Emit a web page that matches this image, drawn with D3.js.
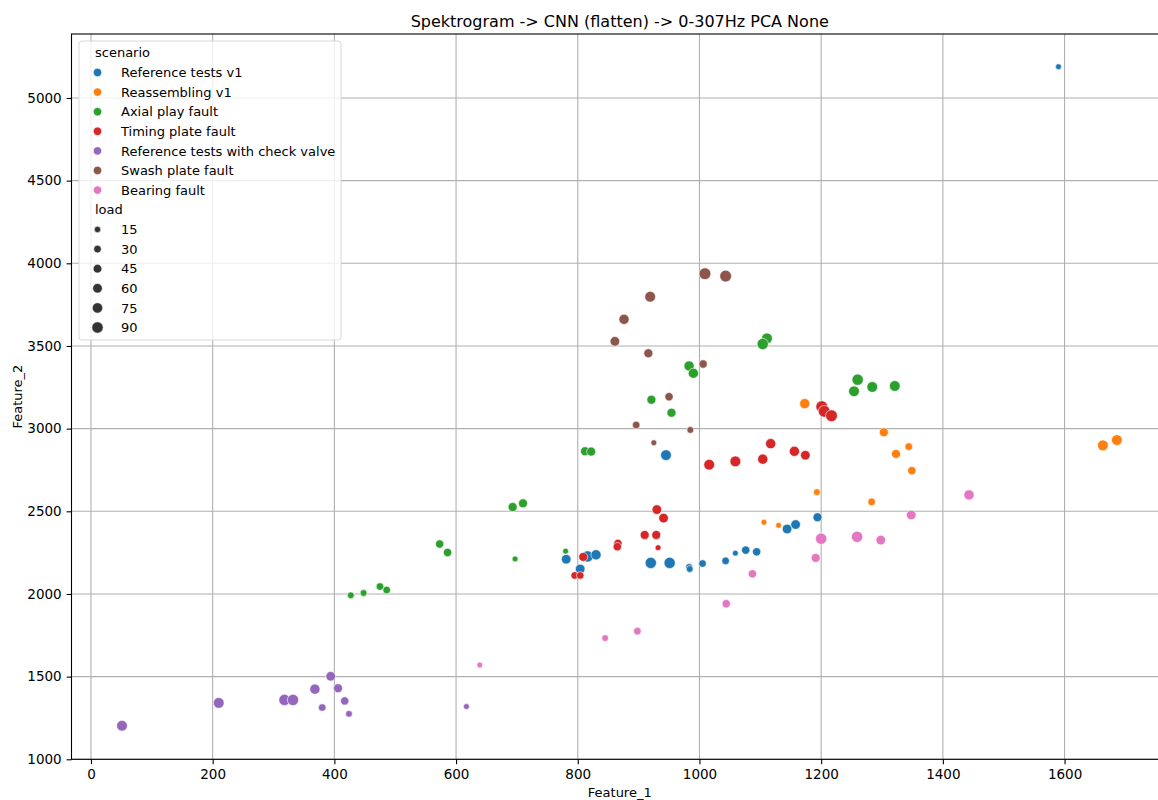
<!DOCTYPE html>
<html>
<head>
<meta charset="utf-8">
<script src="https://cdn.jsdelivr.net/npm/d3@7"></script>
<style>
  body { margin: 0; background: #fff; }
  svg { font-family: "DejaVu Sans", sans-serif; }
</style>
</head>
<body>
<svg id="chart" width="1158" height="800"></svg>
<script>
// Scenario names and colours (legend order)
const scenarios = ["Reference tests v1", "Reassembling v1", "Axial play fault", "Timing plate fault",
    "Reference tests with check valve", "Swash plate fault", "Bearing fault"];
const colors = ["#1f77b4", "#ff7f0e", "#2ca02c", "#d62728", "#9467bd", "#8c564b", "#e377c2"];

// Points per scenario: [Feature_1, Feature_2, load]
const referenceV1 = [[945, 2840, 80], [1194, 2464, 50], [1158, 2420, 60], [1144, 2393, 60], [1590, 5189, 10],
    [781, 2210, 60], [804, 2151, 60], [816, 2227, 90], [830, 2237, 70], [920, 2188, 90], [951, 2188, 90],
    [983, 2163, 20], [984, 2151, 20], [1005, 2184, 30], [1043, 2200, 30], [1059, 2247, 10], [1076, 2265, 40],
    [1094, 2255, 40]];
const reassemblingV1 = [[1173, 3151, 70], [1303, 2978, 50], [1344, 2891, 30], [1323, 2847, 50], [1349, 2746, 40],
    [1193, 2616, 20], [1283, 2557, 30], [1106, 2434, 10], [1130, 2415, 10], [1663, 2899, 80], [1686, 2931, 80]];
const axialPlay = [[1111, 3546, 80], [1104, 3512, 90], [983, 3379, 70], [990, 3335, 70], [921, 3175, 50],
    [954, 3096, 50], [1260, 3296, 90], [1254, 3226, 80], [1284, 3252, 80], [1321, 3258, 80], [812, 2863, 50],
    [822, 2861, 50], [693, 2526, 50], [710, 2548, 50], [573, 2302, 40], [586, 2251, 40], [697, 2212, 10],
    [780, 2259, 10], [475, 2045, 30], [486, 2024, 30], [448, 2006, 20], [427, 1992, 20]];
const timingPlate = [[1201, 3133, 100], [1205, 3105, 100], [1217, 3078, 100], [1117, 2909, 70], [1156, 2863, 70],
    [1174, 2839, 60], [1104, 2815, 70], [1059, 2802, 80], [1016, 2782, 80], [930, 2510, 60], [941, 2459, 60],
    [910, 2357, 50], [929, 2357, 50], [932, 2280, 10], [866, 2306, 40], [865, 2286, 40], [809, 2224, 50],
    [795, 2112, 30], [804, 2112, 30]];
const checkValve = [[51, 1203, 80], [210, 1341, 80], [318, 1359, 90], [332, 1359, 90], [368, 1424, 70],
    [380, 1313, 30], [394, 1502, 60], [406, 1430, 50], [417, 1353, 40], [424, 1275, 20], [617, 1319, 10]];
const swashPlate = [[1009, 3937, 100], [1043, 3923, 100], [919, 3798, 80], [876, 3661, 70], [861, 3528, 60],
    [916, 3456, 50], [1006, 3391, 40], [950, 3193, 40], [896, 3022, 30], [985, 2992, 20], [925, 2915, 10]];
const bearing = [[1443, 2599, 70], [1348, 2478, 60], [1200, 2334, 90], [1259, 2346, 90], [1298, 2326, 60],
    [1191, 2218, 50], [1087, 2122, 40], [1044, 1941, 40], [898, 1775, 30], [845, 1733, 20], [639, 1570, 10]];

const seriesPoints = [referenceV1, reassemblingV1, axialPlay, timingPlate, checkValve, swashPlate, bearing];

const xTicks = [0, 200, 400, 600, 800, 1000, 1200, 1400, 1600];
const yTicks = [1000, 1500, 2000, 2500, 3000, 3500, 4000, 4500, 5000];
const loadTicks = [15, 30, 45, 60, 75, 90];

const svg = d3.select("#chart");

// Axes box (right edge falls just outside the picture, as in the original)
const boxLeft = 71.5, boxTop = 34, boxBottom = 759.3, boxRight = 1168;

let x = d3.scaleLinear().domain([-32, 1770]).range([boxLeft, boxRight]);
let y = d3.scaleLinear().domain([1000, 5387]).range([boxBottom, boxTop]);

// Marker area in pt^2 grows linearly with load (seaborn style), radius in px
let area = d3.scaleLinear().domain([10, 100]).range([18, 72]);
const radius = load => Math.sqrt(area(load)) / 2 * 100 / 72;

// Grid
let grid = svg.append("g").attr("class", "grid");
grid.selectAll(".vx").data(xTicks).join("line")
    .attr("x1", d => x(d)).attr("x2", d => x(d))
    .attr("y1", boxTop).attr("y2", boxBottom)
    .style("stroke", "#b0b0b0").style("stroke-width", 1.1);
grid.selectAll(".hy").data(yTicks).join("line")
    .attr("x1", boxLeft).attr("x2", boxRight)
    .attr("y1", d => y(d)).attr("y2", d => y(d))
    .style("stroke", "#b0b0b0").style("stroke-width", 1.1);

// Points
let pts = svg.append("g").attr("class", "points");
seriesPoints.forEach((arr, i) => {
    pts.selectAll(null).data(arr).join("circle")
        .attr("cx", d => x(d[0]))
        .attr("cy", d => y(d[1]))
        .attr("r", d => radius(d[2]))
        .style("fill", colors[i])
        .style("stroke", "white")
        .style("stroke-width", 0.6);
});

// Axes
let xAxis = d3.axisBottom(x).tickValues(xTicks).tickFormat(d3.format("d"))
    .tickSize(4.9).tickPadding(4.9).tickSizeOuter(0);
let yAxis = d3.axisLeft(y).tickValues(yTicks).tickFormat(d3.format("d"))
    .tickSize(4.9).tickPadding(4.9).tickSizeOuter(0);

let gx = svg.append("g").attr("transform", `translate(0,${boxBottom})`).call(xAxis);
let gy = svg.append("g").attr("transform", `translate(${boxLeft},0)`).call(yAxis);
[gx, gy].forEach(g => {
    g.select(".domain").remove();
    g.selectAll("text").style("font-size", "13.5px").style("fill", "#000").style("font-family", "DejaVu Sans");
    g.selectAll("line").style("stroke", "#000").style("stroke-width", 1.1);
});

// Spines
svg.append("rect")
    .attr("x", boxLeft).attr("y", boxTop)
    .attr("width", boxRight - boxLeft).attr("height", boxBottom - boxTop)
    .style("fill", "none").style("stroke", "#000").style("stroke-width", 1.1);

// Title and labels
svg.append("text").attr("x", (boxLeft + boxRight) / 2).attr("y", 27)
    .attr("text-anchor", "middle").style("font-size", "16px")
    .text("Spektrogram -> CNN (flatten) -> 0-307Hz PCA None");
svg.append("text").attr("x", (boxLeft + boxRight) / 2).attr("y", 797)
    .attr("text-anchor", "middle").style("font-size", "13px").text("Feature_1");
svg.append("text").attr("transform", `translate(22,${(boxTop + boxBottom) / 2}) rotate(-90)`)
    .attr("text-anchor", "middle").style("font-size", "13px").text("Feature_2");

// Legend
let legend = svg.append("g").attr("class", "legend");
legend.append("rect")
    .attr("x", 79).attr("y", 41).attr("width", 262).attr("height", 299)
    .attr("rx", 3)
    .style("fill", "white").style("fill-opacity", 0.8)
    .style("stroke", "#d8d8d8").style("stroke-width", 1);

const rowStep = 19.6;
legend.append("text").attr("x", 95).attr("y", 57).style("font-size", "13px").text("scenario");
scenarios.forEach((s, i) => {
    let cy = 72.5 + i * rowStep;
    legend.append("circle").attr("cx", 97.5).attr("cy", cy).attr("r", 4.2)
        .style("fill", colors[i]).style("stroke", "white").style("stroke-width", 0.6);
    legend.append("text").attr("x", 121).attr("y", cy + 4.7).style("font-size", "13px").text(s);
});
legend.append("text").attr("x", 95).attr("y", 214).style("font-size", "13px").text("load");
loadTicks.forEach((l, i) => {
    let cy = 229.5 + i * rowStep;
    legend.append("circle").attr("cx", 97.5).attr("cy", cy).attr("r", radius(l))
        .style("fill", "#333333").style("stroke", "white").style("stroke-width", 0.6);
    legend.append("text").attr("x", 121).attr("y", cy + 4.7).style("font-size", "13px").text(l);
});
</script>
</body>
</html>
